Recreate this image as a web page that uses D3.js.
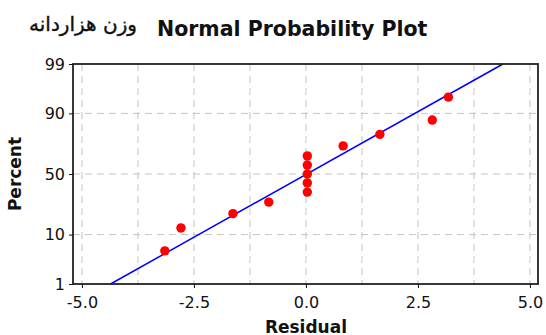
<!DOCTYPE html>
<html>
<head>
<meta charset="utf-8">
<script src="https://cdn.jsdelivr.net/npm/d3@7"></script>
<style>
  body { margin: 0; background: #fff; }
  .axis text { font-family: "DejaVu Sans", sans-serif; font-size: 16px; fill: #111; }
  .axis path, .axis line { stroke: #111; }
</style>
</head>
<body>
<div id="chart"></div>
<script>
// residuals, sorted, and the percent each one is plotted at
var residuals = [-3.15, -2.79, -1.63, -0.83, 0.03, 0.03, 0.03, 0.03, 0.03, 0.83, 1.65, 2.82, 3.18];
var percents = [5.2, 12.7, 20.1, 27.6, 35.1, 42.5, 50, 57.5, 64.9, 72.4, 79.9, 87.3, 94.8];
var xTicks = [-5, -2.5, 0, 2.5, 5];
var xGrid = [-5, -3.75, -2.5, -1.25, 0, 1.25, 2.5, 3.75, 5];
var yTicks = [1, 10, 50, 90, 99];

// inverse of the normal cdf (Acklam)
function probit(p) {
  var a = [-39.6968302866538, 220.946098424521, -275.928510446969, 138.357751867269, -30.6647980661472, 2.50662827745924];
  var b = [-54.4760987982241, 161.585836858041, -155.698979859887, 66.8013118877197, -13.2806815528857];
  var c = [-0.00778489400243029, -0.322396458041136, -2.40075827716184, -2.54973253934373, 4.37466414146497, 2.93816398269878];
  var d = [0.00778469570904146, 0.32246712907004, 2.445134137143, 3.75440866190742];
  var pl = 0.02425, q, r;
  if (p < pl) {
    q = Math.sqrt(-2 * Math.log(p));
    return (((((c[0]*q+c[1])*q+c[2])*q+c[3])*q+c[4])*q+c[5]) / ((((d[0]*q+d[1])*q+d[2])*q+d[3])*q+1);
  }
  if (p > 1 - pl) {
    q = Math.sqrt(-2 * Math.log(1 - p));
    return -(((((c[0]*q+c[1])*q+c[2])*q+c[3])*q+c[4])*q+c[5]) / ((((d[0]*q+d[1])*q+d[2])*q+d[3])*q+1);
  }
  q = p - 0.5; r = q * q;
  return (((((a[0]*r+a[1])*r+a[2])*r+a[3])*r+a[4])*r+a[5])*q / (((((b[0]*r+b[1])*r+b[2])*r+b[3])*r+b[4])*r+1);
}

var fullWidth = 546, fullHeight = 335;
var margin = {top: 64, right: 8, bottom: 51, left: 73};
var width = fullWidth - margin.left - margin.right;
var height = fullHeight - margin.top - margin.bottom;

var svg = d3.select('#chart').append('svg')
  .attr('width', fullWidth)
  .attr('height', fullHeight);

var g = svg.append('g')
  .attr('transform', 'translate(' + margin.left + ',' + margin.top + ')');

var x = d3.scaleLinear().domain([-5.2, 5.18]).range([0, width]);
// y axis is in z units, labelled in percent
var zTop = probit(0.99), zBot = probit(0.01);
var y = d3.scaleLinear().domain([zBot, zTop]).range([height, 0]);

// dashed grid
g.append('g').selectAll('line')
    .data(xGrid)
  .enter().append('line')
    .attr('x1', function(d) { return x(d); })
    .attr('x2', function(d) { return x(d); })
    .attr('y1', 0).attr('y2', height)
    .attr('stroke', '#c4c4c4')
    .attr('stroke-dasharray', '7,5');

g.append('g').selectAll('line')
    .data(yTicks.slice(1, -1))
  .enter().append('line')
    .attr('x1', 0).attr('x2', width)
    .attr('y1', function(d) { return y(probit(d / 100)); })
    .attr('y2', function(d) { return y(probit(d / 100)); })
    .attr('stroke', '#c4c4c4')
    .attr('stroke-dasharray', '7,5');

// fitted line from mean and standard deviation
var mu = d3.mean(residuals), sd = d3.deviation(residuals);
g.append('line')
  .attr('x1', x(mu + sd * zBot)).attr('y1', y(zBot))
  .attr('x2', x(mu + sd * zTop)).attr('y2', y(zTop))
  .attr('stroke', '#0000ff')
  .attr('stroke-width', 1.5);

// points
g.selectAll('circle.pt')
    .data(residuals)
  .enter().append('circle')
    .classed('pt', true)
    .attr('cx', function(d) { return x(d); })
    .attr('cy', function(d, i) { return y(probit(percents[i] / 100)); })
    .attr('r', 4.7)
    .attr('fill', '#ff0000');

// frame
g.append('rect')
  .attr('width', width).attr('height', height)
  .attr('fill', 'none')
  .attr('stroke', '#222')
  .attr('stroke-width', 1.8);

var xAxis = d3.axisBottom(x)
  .tickValues(xTicks)
  .tickFormat(function(d) { return d.toFixed(1); })
  .tickSizeOuter(0)
  .tickSize(4)
  .tickPadding(9);
var yAxis = d3.axisLeft(y)
  .tickValues(yTicks.map(function(p) { return probit(p / 100); }))
  .tickFormat(function(d, i) { return yTicks[i]; })
  .tickSizeOuter(0)
  .tickSize(4)
  .tickPadding(4);

g.append('g')
  .classed('x axis', true)
  .attr('transform', 'translate(0,' + height + ')')
  .call(xAxis)
  .select('.domain').remove();

g.append('g')
  .classed('y axis', true)
  .call(yAxis)
  .select('.domain').remove();

// texts
svg.append('text')
  .attr('x', 157).attr('y', 36)
  .style('font-family', '"DejaVu Sans", sans-serif')
  .style('font-weight', 'bold')
  .style('font-size', '20.5px')
  .attr('fill', '#111')
  .text('Normal Probability Plot');

svg.append('text')
  .attr('x', 137).attr('y', 31)
  .attr('text-anchor', 'end')
  .style('font-family', '"DejaVu Sans", sans-serif')
  .style('font-size', '20px')
  .attr('fill', '#111')
  .attr('stroke', '#111')
  .attr('stroke-width', 0.4)
  .text('وزن هزاردانه');

svg.append('text')
  .attr('x', margin.left + x(0)).attr('y', 332.5)
  .attr('text-anchor', 'middle')
  .style('font-family', '"DejaVu Sans", sans-serif')
  .style('font-weight', 'bold')
  .style('font-size', '17px')
  .attr('fill', '#111')
  .text('Residual');

svg.append('text')
  .attr('transform', 'translate(21,' + (margin.top + y(0)) + ') rotate(-90)')
  .attr('text-anchor', 'middle')
  .style('font-family', '"DejaVu Sans", sans-serif')
  .style('font-weight', 'bold')
  .style('font-size', '17px')
  .attr('fill', '#111')
  .text('Percent');
</script>
</body>
</html>
